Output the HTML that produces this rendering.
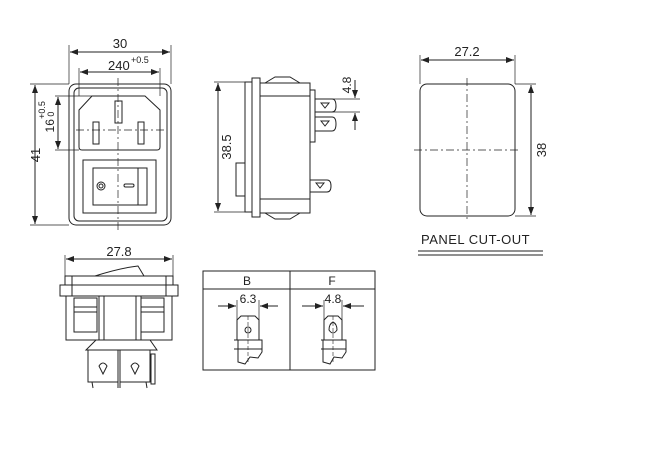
<!DOCTYPE html><html><head><style>body{margin:0;background:#fff}svg{display:block}text{font-family:"Liberation Sans",sans-serif;fill:#222}</style></head><body>
<svg width="660" height="450" viewBox="0 0 660 450" xmlns="http://www.w3.org/2000/svg" fill="none" stroke="#222" stroke-width="1">
<defs><marker id="a" markerWidth="8" markerHeight="6" refX="8" refY="3" orient="auto-start-reverse"><path d="M0,0L8,3L0,6z" fill="#222" stroke="none"/></marker></defs>
<!-- front view -->
<rect x="69" y="84" width="102" height="141" rx="7"/>
<rect x="74" y="88" width="93" height="133" rx="5"/>
<path d="M79,110L92,96H145L160,110V147Q160,150 157,150H82Q79,150 79,147Z"/>
<rect x="115" y="101" width="7" height="22"/><rect x="93" y="122" width="6" height="22"/><rect x="138" y="122" width="6" height="22"/>
<rect x="83" y="160" width="73" height="53"/><rect x="93" y="168" width="54" height="37"/><line x1="138" y1="168" x2="138" y2="205"/>
<circle cx="101" cy="186" r="4"/><circle cx="101" cy="186" r="2"/><rect x="124" y="184" width="10" height="3" rx="1.5"/>
<g stroke-dasharray="8,3,2,3" stroke-width="0.7"><line x1="118" y1="78" x2="118" y2="230"/><line x1="76" y1="130" x2="165" y2="130"/></g>
<g stroke-width="0.7"><line x1="69" y1="45" x2="69" y2="84"/><line x1="171" y1="45" x2="171" y2="84"/><line x1="79" y1="68" x2="79" y2="96"/><line x1="160" y1="68" x2="160" y2="96"/>
<line x1="30" y1="84" x2="69" y2="84"/><line x1="30" y1="225" x2="69" y2="225"/><line x1="55" y1="96" x2="92" y2="96"/><line x1="55" y1="150" x2="79" y2="150"/></g>
<line x1="70" y1="52" x2="170" y2="52" marker-start="url(#a)" marker-end="url(#a)"/>
<line x1="80" y1="72" x2="159" y2="72" marker-start="url(#a)" marker-end="url(#a)"/>
<line x1="35" y1="85" x2="35" y2="224" marker-start="url(#a)" marker-end="url(#a)"/>
<line x1="58" y1="97" x2="58" y2="149" marker-start="url(#a)" marker-end="url(#a)"/>
<g stroke="none"><text x="120" y="48" font-size="13" text-anchor="middle">30</text><text x="108" y="70" font-size="13">240</text><text x="131" y="63" font-size="9">+0.5</text>
<text transform="translate(40,155) rotate(-90)" font-size="13" text-anchor="middle">41</text>
<text transform="translate(54,122) rotate(-90)" font-size="12" text-anchor="middle">16<tspan font-size="9" dy="0"> 0</tspan></text>
<text transform="translate(45,110) rotate(-90)" font-size="9" text-anchor="middle">+0.5</text></g>
<!-- side view -->
<rect x="245" y="82" width="7" height="130"/><rect x="252" y="78" width="8" height="139"/>
<rect x="260" y="83" width="50" height="130"/><line x1="260" y1="96" x2="310" y2="96"/><line x1="260" y1="199" x2="310" y2="199"/>
<path d="M265,83L275,77H290L300,83"/><path d="M265,213L275,219H290L300,213"/>
<rect x="236" y="163" width="9" height="33"/>
<path d="M310,90H315V142H310"/><path d="M315,99H332Q336,99 336,106Q336,112 332,112H315"/><path d="M315,117H332Q336,117 336,124Q336,131 332,131H315"/>
<path d="M310,180H327Q331,180 331,186Q331,192 327,192H310"/>
<path d="M321,103L325,108L329,103Z M321,121L325,126L329,121Z M316,183L320,188L324,183Z"/>
<g stroke-width="0.7"><line x1="214" y1="82" x2="245" y2="82"/><line x1="214" y1="212" x2="245" y2="212"/><line x1="332" y1="99" x2="360" y2="99"/><line x1="332" y1="112" x2="360" y2="112"/></g>
<line x1="218" y1="83" x2="218" y2="211" marker-start="url(#a)" marker-end="url(#a)"/>
<line x1="355" y1="80" x2="355" y2="98" marker-end="url(#a)"/><line x1="355" y1="130" x2="355" y2="113" marker-end="url(#a)"/>
<g stroke="none"><text transform="translate(231,147) rotate(-90)" font-size="13" text-anchor="middle">38.5</text><text transform="translate(351,85) rotate(-90)" font-size="12" text-anchor="middle">4.8</text></g>
<!-- panel cutout -->
<rect x="420" y="84" width="95" height="132" rx="7"/>
<g stroke-dasharray="8,3,2,3" stroke-width="0.7"><line x1="467" y1="78" x2="467" y2="222"/><line x1="414" y1="150" x2="521" y2="150"/></g>
<g stroke-width="0.7"><line x1="420" y1="55" x2="420" y2="84"/><line x1="515" y1="55" x2="515" y2="84"/><line x1="515" y1="84" x2="536" y2="84"/><line x1="515" y1="216" x2="536" y2="216"/></g>
<line x1="421" y1="60" x2="514" y2="60" marker-start="url(#a)" marker-end="url(#a)"/>
<line x1="531" y1="85" x2="531" y2="215" marker-start="url(#a)" marker-end="url(#a)"/>
<g stroke="none"><text x="467" y="56" font-size="13" text-anchor="middle">27.2</text><text transform="translate(546,150) rotate(-90)" font-size="13" text-anchor="middle">38</text>
<text x="421" y="244" font-size="13" letter-spacing="0.5">PANEL CUT-OUT</text></g>
<line x1="418" y1="251" x2="543" y2="251"/><line x1="418" y1="255" x2="543" y2="255"/>
<!-- bottom view -->
<g stroke-width="0.7"><line x1="65" y1="255" x2="65" y2="276"/><line x1="173" y1="255" x2="173" y2="276"/></g>
<line x1="66" y1="259" x2="172" y2="259" marker-start="url(#a)" marker-end="url(#a)"/>
<text x="119" y="256" font-size="13" text-anchor="middle" stroke="none">27.8</text>
<path d="M95,276Q120,268 138,266L144,276"/>
<rect x="65" y="276" width="108" height="9"/><rect x="60" y="285" width="118" height="11"/><line x1="72" y1="276" x2="72" y2="296"/><line x1="166" y1="276" x2="166" y2="296"/>
<rect x="66" y="296" width="106" height="44"/><rect x="74" y="298" width="23" height="34"/><rect x="141" y="298" width="23" height="34"/>
<line x1="99" y1="296" x2="99" y2="340"/><line x1="104" y1="296" x2="104" y2="340"/><line x1="136" y1="296" x2="136" y2="340"/><line x1="141" y1="296" x2="141" y2="340"/>
<line x1="74" y1="307" x2="97" y2="307"/><line x1="74" y1="312" x2="97" y2="312"/><line x1="141" y1="307" x2="164" y2="307"/><line x1="141" y1="312" x2="164" y2="312"/>
<path d="M86,350L96,340H150L157,350Z"/>
<rect x="88" y="350" width="30" height="32"/><rect x="120" y="350" width="30" height="32"/><rect x="151" y="354" width="4" height="30"/>
<path d="M99,366L103,374L107,366Q103,360 99,366Z M131,366L135,374L139,366Q135,360 131,366Z"/>
<path d="M92,382L93,388M118,382V388M120,382V388M146,382L147,388"/>
<!-- table -->
<rect x="203" y="271" width="172" height="99"/><line x1="290" y1="271" x2="290" y2="370"/><line x1="203" y1="289" x2="375" y2="289"/>
<g stroke="none"><text x="247" y="285" font-size="12" text-anchor="middle">B</text><text x="332" y="285" font-size="12" text-anchor="middle">F</text>
<text x="248" y="303" font-size="12" text-anchor="middle">6.3</text><text x="333" y="303" font-size="12" text-anchor="middle">4.8</text></g>
<g stroke-width="0.7"><line x1="237" y1="300" x2="237" y2="320"/><line x1="259" y1="300" x2="259" y2="320"/><line x1="324" y1="300" x2="324" y2="320"/><line x1="342" y1="300" x2="342" y2="320"/></g>
<line x1="218" y1="306" x2="236" y2="306" marker-end="url(#a)"/><line x1="278" y1="306" x2="260" y2="306" marker-end="url(#a)"/>
<line x1="302" y1="306" x2="323" y2="306" marker-end="url(#a)"/><line x1="364" y1="306" x2="343" y2="306" marker-end="url(#a)"/>
<path d="M237,340V320L241,316H255L259,320V340"/><path d="M234,340H262V352L258,358L250,357L245,364L238,362V340"/><line x1="234" y1="349" x2="262" y2="349"/>
<circle cx="248" cy="330" r="3"/>
<path d="M324,340V320L328,316H338L342,320V340"/><path d="M321,340H346V352L342,358L334,357L330,364L323,362V340"/><line x1="321" y1="349" x2="346" y2="349"/>
<path d="M329,330Q329,324 333,322Q337,324 337,330Q333,336 329,330Z"/>
<g stroke-dasharray="4,2" stroke-width="0.6"><line x1="248" y1="316" x2="248" y2="362"/><line x1="333" y1="316" x2="333" y2="362"/></g>
</svg></body></html>
